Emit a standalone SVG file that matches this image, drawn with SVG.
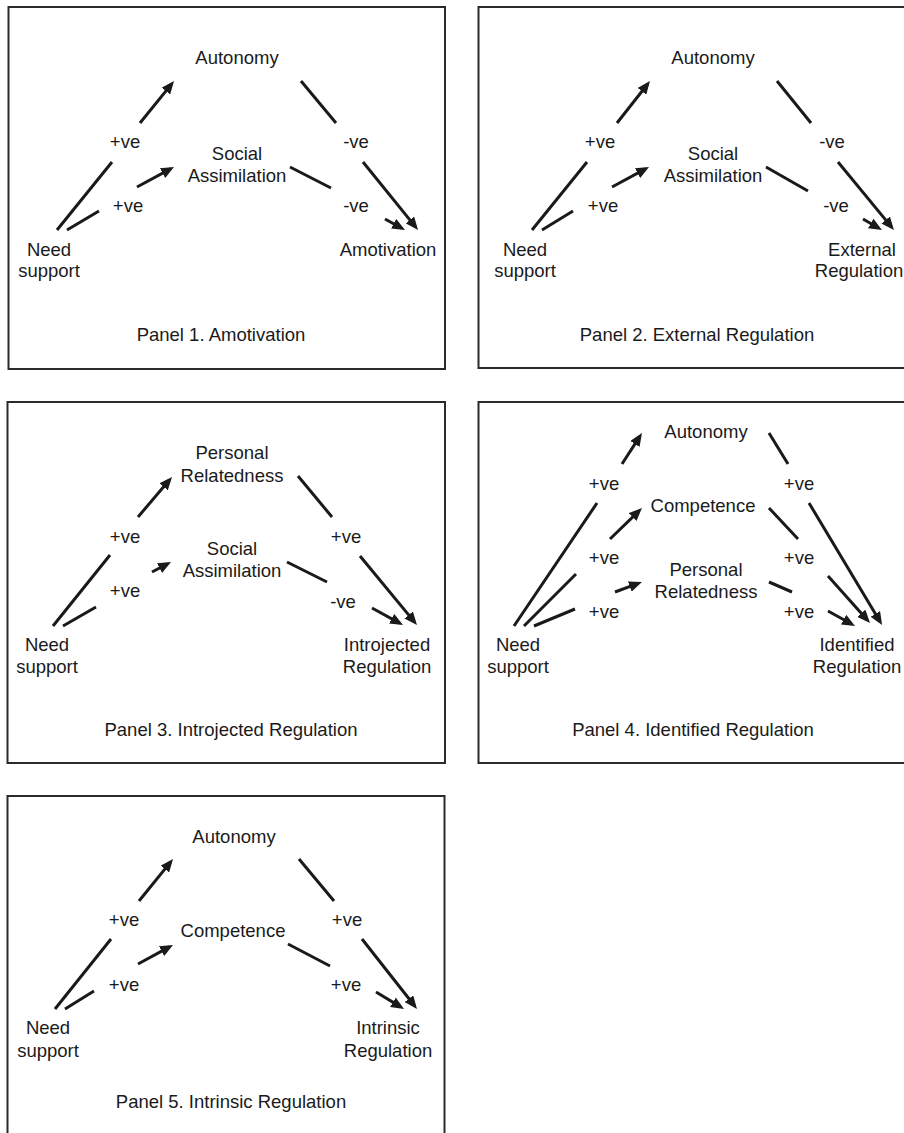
<svg xmlns="http://www.w3.org/2000/svg" width="904" height="1133" viewBox="0 0 904 1133">
<style>
text{font-family:"Liberation Sans",Arial,sans-serif;font-size:18.5px;fill:#1a1a1a;text-anchor:middle}
.box{fill:none;stroke:#2a2a2a;stroke-width:2}
.c{fill:none;stroke:#1a1a1a;stroke-width:3;stroke-linecap:butt;marker-end:url(#ah)}
</style>
<defs>
<marker id="ah" viewBox="0 0 13 11" refX="9" refY="5.5" markerWidth="13" markerHeight="11" markerUnits="userSpaceOnUse" orient="auto">
<path d="M0,0 L13,5.5 L0,11 z" fill="#1a1a1a"/>
</marker>
</defs>
<rect width="904" height="1133" fill="#ffffff"/>

<!-- Panel frames -->
<g id="frames">
<rect class="box" x="8.5" y="7" width="436.5" height="362"/>
<rect class="box" x="478.5" y="7" width="436.5" height="361"/>
<rect class="box" x="7.5" y="402" width="437.5" height="361"/>
<rect class="box" x="478.5" y="402" width="436.5" height="361"/>
<rect class="box" x="7.5" y="796" width="437" height="350"/>
</g>

<g id="connectors">
<!-- Panel 1 -->
<path class="c" d="M57,230 L112,162 M140,123 L171.5,84.1"/>
<path class="c" d="M67,230 L99,211 M137,187 L170.5,168.9"/>
<path class="c" d="M301,81 L336,123 M363,162 L415.5,226.9"/>
<path class="c" d="M290,167 L331,188 M385,219 L401.5,228.1"/>
<text x="125" y="148">+ve</text>
<text x="128" y="212">+ve</text>
<text x="356" y="148">-ve</text>
<text x="356" y="212">-ve</text>
<!-- Panel 2 -->
<path class="c" d="M532,230 L587,162 M617,123 L647.5,84.2"/>
<path class="c" d="M542,230 L573,211 M612,187 L645.5,168.9"/>
<path class="c" d="M777,81 L811,123 M838,162 L891.4,226.9"/>
<path class="c" d="M766,167 L808,191 M863,219 L878.5,228"/>
<text x="600" y="148">+ve</text>
<text x="603" y="212">+ve</text>
<text x="832" y="148">-ve</text>
<text x="836" y="212">-ve</text>
<!-- Panel 3 -->
<path class="c" d="M53,626 L110,555 M138,517 L169.4,480"/>
<path class="c" d="M63,626 L96,607 M152,572 L167.5,563.9"/>
<path class="c" d="M298,476 L332,517 M360,556 L414.4,621.9"/>
<path class="c" d="M287,562 L327,582 M372,608 L399.5,623.1"/>
<text x="125" y="543">+ve</text>
<text x="125" y="597">+ve</text>
<text x="346" y="543">+ve</text>
<text x="343" y="608">-ve</text>
<!-- Panel 4 -->
<path class="c" d="M514,626 L597,503 M622,464 L639.8,436.4"/>
<path class="c" d="M524,626 L576,574 M610,539 L639.1,510.8"/>
<path class="c" d="M534,626 L575,609 M615,592 L638.2,583.4"/>
<path class="c" d="M769,433 L788,464 M809,503 L880,621.6"/>
<path class="c" d="M769,508 L798,539 M828,576 L867.3,620"/>
<path class="c" d="M769,582 L792,592 M828,611 L851.5,624"/>
<text x="604" y="490">+ve</text>
<text x="604" y="564">+ve</text>
<text x="604" y="618">+ve</text>
<text x="799" y="490">+ve</text>
<text x="799" y="564">+ve</text>
<text x="799" y="618">+ve</text>
<!-- Panel 5 -->
<path class="c" d="M55,1009 L111,939 M139,901 L170.5,862.1"/>
<path class="c" d="M65,1009 L94,991 M138,964 L169.5,946.9"/>
<path class="c" d="M299,859 L334,901 M362,939 L414.5,1005.8"/>
<path class="c" d="M288,944 L330,966 M376,992 L400.6,1006.9"/>
<text x="124" y="926">+ve</text>
<text x="124" y="991">+ve</text>
<text x="347" y="926">+ve</text>
<text x="346" y="991">+ve</text>
</g>

<!-- Panel 1 nodes -->
<g id="p1-autonomy"><text x="237" y="64">Autonomy</text></g>
<g id="p1-social"><text x="237" y="160">Social</text><text x="237" y="182">Assimilation</text></g>
<g id="p1-need"><text x="49" y="256">Need</text><text x="49" y="277">support</text></g>
<g id="p1-outcome"><text x="388" y="256">Amotivation</text></g>
<g id="p1-title"><text x="221" y="341">Panel 1. Amotivation</text></g>

<!-- Panel 2 nodes -->
<g id="p2-autonomy"><text x="713" y="64">Autonomy</text></g>
<g id="p2-social"><text x="713" y="160">Social</text><text x="713" y="182">Assimilation</text></g>
<g id="p2-need"><text x="525" y="256">Need</text><text x="525" y="277">support</text></g>
<g id="p2-outcome"><text x="862" y="256">External</text><text x="859" y="277">Regulation</text></g>
<g id="p2-title"><text x="697" y="341">Panel 2. External Regulation</text></g>

<!-- Panel 3 nodes -->
<g id="p3-personal"><text x="232" y="459">Personal</text><text x="232" y="482">Relatedness</text></g>
<g id="p3-social"><text x="232" y="555">Social</text><text x="232" y="577">Assimilation</text></g>
<g id="p3-need"><text x="47" y="651">Need</text><text x="47" y="673">support</text></g>
<g id="p3-outcome"><text x="387" y="651">Introjected</text><text x="387" y="673">Regulation</text></g>
<g id="p3-title"><text x="231" y="736">Panel 3. Introjected Regulation</text></g>

<!-- Panel 4 nodes -->
<g id="p4-autonomy"><text x="706" y="438">Autonomy</text></g>
<g id="p4-competence"><text x="703" y="512">Competence</text></g>
<g id="p4-personal"><text x="706" y="576">Personal</text><text x="706" y="598">Relatedness</text></g>
<g id="p4-need"><text x="518" y="651">Need</text><text x="518" y="673">support</text></g>
<g id="p4-outcome"><text x="857" y="651">Identified</text><text x="857" y="673">Regulation</text></g>
<g id="p4-title"><text x="693" y="736">Panel 4. Identified Regulation</text></g>

<!-- Panel 5 nodes -->
<g id="p5-autonomy"><text x="234" y="843">Autonomy</text></g>
<g id="p5-competence"><text x="233" y="937">Competence</text></g>
<g id="p5-need"><text x="48" y="1034">Need</text><text x="48" y="1057">support</text></g>
<g id="p5-outcome"><text x="388" y="1034">Intrinsic</text><text x="388" y="1057">Regulation</text></g>
<g id="p5-title"><text x="231" y="1108">Panel 5. Intrinsic Regulation</text></g>
</svg>
